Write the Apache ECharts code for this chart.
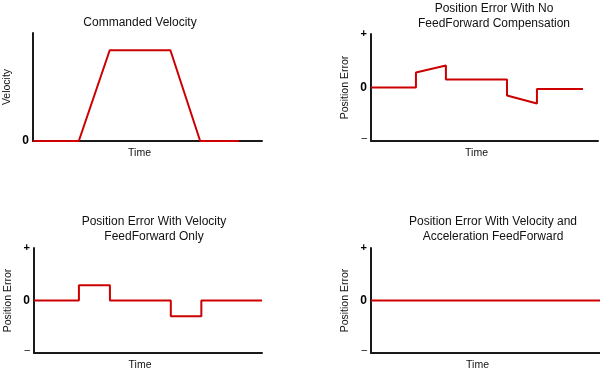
<!DOCTYPE html>
<html>
<head>
<meta charset="utf-8">
<script src="https://cdn.jsdelivr.net/npm/echarts@6/dist/echarts.min.js"></script>
<style>
html,body{margin:0;padding:0;background:#fff;}
#c{width:600px;height:372px;}
</style>
</head>
<body>
<div id="c"></div>
<script>
// ---- data ----
const panelTitles = [
  'Commanded Velocity',
  'Position Error With No\nFeedForward Compensation',
  'Position Error With Velocity\nFeedForward Only',
  'Position Error With Velocity and\nAcceleration FeedForward'
];
const yAxisNames = ['Velocity', 'Position Error', 'Position Error', 'Position Error'];
const xAxisName = 'Time';

const velTime  = [0, 2.0, 3.35, 6.0, 7.3, 9.0];
const velValue = [0, 0, 1, 1, 0, 0];

const noFFTime  = [0, 1.98, 1.98, 3.3, 3.3, 5.99, 5.99, 7.31, 7.31, 9.34];
const noFFError = [0, 0, 0.28, 0.41, 0.15, 0.15, -0.15, -0.30, -0.03, -0.03];

const velFFTime  = [0, 1.97, 1.97, 3.33, 3.33, 6.0, 6.0, 7.34, 7.34, 10];
const velFFError = [0, 0, 0.29, 0.29, 0, 0, -0.30, -0.30, 0, 0];

const accFFTime  = [0, 10];
const accFFError = [0, 0];

const velocityTickValues = [0];
const velocityTickLabels = ['0'];
const errorTickValues = [-1, 0, 1];
const errorTickLabels = ['–', '0', '+'];

// ---- build ----
const FONT = 'Arial, "Liberation Sans", sans-serif';
const RED = '#cc0000';
const AX = '#1a1a1a';

const grids = [
  {left: 33,  top: 33,  width: 229, height: 108},
  {left: 371, top: 34,  width: 227, height: 107},
  {left: 34,  top: 248, width: 228, height: 106},
  {left: 371, top: 248, width: 229, height: 106}
];
const titlePos = [
  {left: 140, top: 15},
  {left: 494, top: 1},
  {left: 154, top: 214},
  {left: 493, top: 214}
];
const seriesData = [
  velTime.map((t, i) => [t, velValue[i]]),
  noFFTime.map((t, i) => [t, noFFError[i]]),
  velFFTime.map((t, i) => [t, velFFError[i]]),
  accFFTime.map((t, i) => [t, accFFError[i]])
];

function errLabel(v) {
  const i = errorTickValues.indexOf(v);
  if (i < 0) return '';
  const s = errorTickLabels[i];
  if (v === 0) return '{z|' + s + '}';
  if (v < 0) return '{m|' + s + '}';
  return '{p|' + s + '}';
}
function velLabel(v) {
  const i = velocityTickValues.indexOf(v);
  return i < 0 ? '' : '{z|' + velocityTickLabels[i] + '}';
}
const rich = {
  z: {fontSize: 12, fontWeight: 'bold', color: '#000', fontFamily: FONT},
  p: {fontSize: 11, fontWeight: 'bold', color: '#000', fontFamily: FONT},
  m: {fontSize: 10, color: '#000', fontFamily: FONT, padding: [0, 0, 6, 0]}
};

const option = {
  animation: false,
  backgroundColor: '#fff',
  title: panelTitles.map((t, i) => ({
    text: t,
    left: titlePos[i].left,
    top: titlePos[i].top,
    textAlign: 'center',
    padding: 0,
    textStyle: {fontSize: 12, fontWeight: 'normal', color: '#111', fontFamily: FONT, lineHeight: 15}
  })),
  grid: grids,
  xAxis: grids.map((g, i) => ({
    type: 'value', gridIndex: i, min: 0, max: 10,
    name: xAxisName, nameLocation: 'middle', nameGap: 7,
    nameTextStyle: {fontSize: 10.5, color: '#111', fontFamily: FONT, padding: [0, 16, 0, 0]},
    axisLine: {show: true, onZero: false, lineStyle: {color: AX, width: 2}},
    axisTick: {show: false}, axisLabel: {show: false}, splitLine: {show: false}
  })),
  yAxis: grids.map((g, i) => ({
    type: 'value', gridIndex: i,
    min: i === 0 ? 0 : -1, max: i === 0 ? 1.19 : 1, interval: i === 0 ? 1.19 : 1,
    name: yAxisNames[i], nameLocation: 'middle', nameGap: 20,
    nameTextStyle: {fontSize: 10.5, color: '#111', fontFamily: FONT},
    axisLine: {show: true, onZero: false, lineStyle: {color: AX, width: 2}},
    axisTick: {show: false},
    axisLabel: {show: true, margin: 4, formatter: i === 0 ? velLabel : errLabel, rich: rich},
    splitLine: {show: false}
  })),
  series: seriesData.map((d, i) => ({
    type: 'line', xAxisIndex: i, yAxisIndex: i, data: d,
    showSymbol: false, symbol: 'none',
    lineStyle: {color: RED, width: 2}, z: 5
  }))
};

const chart = echarts.init(document.getElementById('c'), null, {renderer: 'canvas'});
chart.setOption(option);
</script>
</body>
</html>
